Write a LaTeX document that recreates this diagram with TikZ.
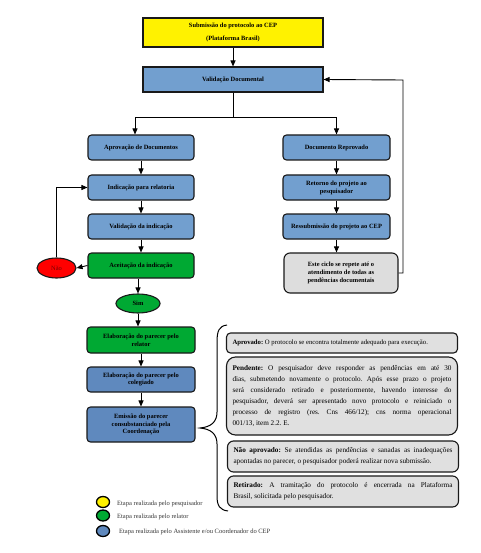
\documentclass[tikz,border=0pt]{standalone}
\usepackage{fontspec}
\setmainfont{Liberation Serif}
\usetikzlibrary{shapes.geometric,arrows.meta}
\definecolor{ublue}{HTML}{729FCF}
\definecolor{dblue}{HTML}{5F89BE}
\definecolor{fgreen}{HTML}{00A933}
\definecolor{lgrey}{HTML}{DDDDDD}
\definecolor{ngrey}{HTML}{E0E0E0}
\definecolor{legtext}{HTML}{333333}
\newcommand\bxfont{\fontsize{6.45}{7.9}\selectfont\bfseries}
\newcommand\ntfont{\fontsize{7.2}{11}\selectfont}
\newcommand\apfont{\fontsize{6.7}{8}\selectfont}
\frenchspacing
\begin{document}
\begin{tikzpicture}[x=1pt,y=-1pt,
  base/.style={draw=black!90, line width=1.1pt, align=center, inner sep=1pt, font=\bxfont, text=black},
  flowbox/.style={base, rounded corners=3.5pt, minimum width=106pt, minimum height=25pt},
  arr/.style={line width=0.9pt, -{Triangle[length=6pt,width=5pt]}},
  ln/.style={line width=0.9pt},
  note/.style={draw=black!90, line width=1.1pt, fill=ngrey, rounded corners=6pt, text width=219pt, inner xsep=6pt, inner ysep=2pt, align=justify, font=\ntfont},
  legc/.style={ellipse, draw=black, line width=1.3pt, minimum width=13pt, minimum height=11pt, inner sep=0pt},
  legt/.style={anchor=west, font=\fontsize{6.5}{7.5}\selectfont, text=legtext, inner sep=0pt}
]
\useasboundingbox (0,0) rectangle (480,553);

% top
\node[base, fill=yellow, minimum width=180pt, minimum height=29pt] (sub) at (233,32.5)
  {\begin{tabular}{@{}c@{}}Submissão do protocolo ao CEP\\[5pt](Plataforma Brasil)\end{tabular}};
\node[base, fill=ublue, minimum width=180pt, minimum height=25pt] (valid) at (233,79.5) {Validação Documental};

% left column
\node[flowbox, fill=ublue] (aprov) at (141,147.5) {Aprovação de Documentos};
\node[flowbox, fill=ublue] (indic) at (141,187.5) {Indicação para relatoria};
\node[flowbox, fill=ublue] (valind) at (141,226.5) {Validação da indicação};
\node[flowbox, fill=fgreen] (aceit) at (141,265.5) {Aceitação da indicação};
\node[ellipse, draw=black!90, line width=1.1pt, fill=red, minimum width=39pt, minimum height=20pt, inner sep=0pt,
      font=\fontsize{6.45}{7.5}\selectfont, text={rgb,255:red,120;green,0;blue,0}] (nao) at (56.5,268) {Não};
\node[ellipse, draw=black!90, line width=1.1pt, fill=fgreen, minimum width=44pt, minimum height=19pt, inner sep=0pt,
      font=\bxfont] (sim) at (138,303.5) {Sim};
\node[flowbox, fill=fgreen, minimum width=108pt, minimum height=26pt] (relator) at (141,340) {Elaboração do parecer pelo\\relator};
\node[flowbox, fill=dblue, minimum width=108pt, minimum height=25pt] (coleg) at (141,379.5) {Elaboração do parecer pelo\\colegiado};
\node[flowbox, fill=dblue, minimum width=108pt, minimum height=35pt] (emiss) at (141,424.5) {Emissão do parecer\\consubstanciado pela\\Coordenação};

% right column
\node[flowbox, fill=ublue, minimum width=107pt] (reprov) at (336.5,147.5) {Documento Reprovado};
\node[flowbox, fill=ublue, minimum width=107pt] (retorno) at (336.5,187.5) {Retorno do projeto ao\\pesquisador};
\node[flowbox, fill=ublue, minimum width=107pt] (ressub) at (336.5,226.5) {Ressubmissão do projeto ao CEP};
\node[flowbox, fill=lgrey, minimum width=114pt, minimum height=40pt, rounded corners=6pt] (ciclo) at (341,273)
  {Este ciclo se repete até o\\atendimento de todas as\\pendências documentais};

% connectors
\coordinate (split) at (233,117);
\coordinate (loop) at (403,80);
\draw[arr] (sub) -- (valid);
\draw[ln] (valid.south) -- (split);
\draw[arr] (split) -| ([xshift=-6pt]aprov.north);
\draw[arr] (split) -| (reprov.north);
\draw[arr] (aprov) -- (indic);
\draw[arr] (indic) -- (valind);
\draw[arr] (valind) -- (aceit);
\draw[arr] (aceit.west) -- (nao.east);
\draw[arr] (nao.north) |- (indic.west);
\draw[arr] ([xshift=-3pt]aceit.south) -- (sim.north);
\draw[arr] (sim.south) -- ([xshift=-3pt]relator.north);
\draw[arr] (relator) -- (coleg);
\draw[arr] (coleg) -- (emiss);
\draw[arr] (reprov) -- (retorno);
\draw[arr] (retorno) -- (ressub);
\draw[arr] (ressub.south) -- ([xshift=-4.5pt]ciclo.north);
\draw[arr] (ciclo.east) -| (loop) -- (valid.east);

% brace
\draw[line width=1pt] (227,325) .. controls (219,326) and (217,331) .. (217,342) -- (217,412)
  .. controls (217,422) and (211,427) .. (200,428)
  .. controls (211,429) and (217,434) .. (217,444) -- (217,496)
  .. controls (217,506) and (220,510) .. (228,511);

% result notes
\node[note, font=\apfont, minimum height=20pt, rounded corners=4pt] (aprovado) at (342,343)
  {\textbf{Aprovado:} O protocolo se encontra totalmente adequado para execução.};
\node[note, minimum height=78pt, rounded corners=9pt] (pendente) at (342,396)
  {\textbf{Pendente:} O pesquisador deve responder as pendências em até 30\linebreak
   dias, submetendo novamente o protocolo. Após esse prazo o projeto\linebreak
   será considerado retirado e posteriormente, havendo interesse do\linebreak
   pesquisador, deverá ser apresentado novo protocolo e reiniciado o\linebreak
   processo de registro (res. Cns 466/12); cns norma operacional\linebreak
   001/13, item 2.2. E.};
\node[note, minimum height=31pt] (naoap) at (343,456.5)
  {\textbf{Não aprovado:} Se atendidas as pendências e sanadas as inadequações\linebreak
   apontadas no parecer, o pesquisador poderá realizar nova submissão.};
\node[note, minimum height=31pt] (retirado) at (343,491.5)
  {\textbf{Retirado:} A tramitação do protocolo é encerrada na Plataforma\linebreak
   Brasil, solicitada pelo pesquisador.};

% legend
\node[legc, fill=yellow] (l1) at (103,502) {};
\node[legc, fill=fgreen] (l2) at (103,515.5) {};
\node[legc, fill=dblue] (l3) at (103,531) {};
\node[legt] (t1) at (117,503.5) {Etapa realizada pelo pesquisador};
\node[legt] (t2) at (117,516.5) {Etapa realizada pelo relator};
\node[legt] (t3) at (119,532) {Etapa realizada pelo Assistente e/ou Coordenador do CEP};
\end{tikzpicture}
\end{document}
